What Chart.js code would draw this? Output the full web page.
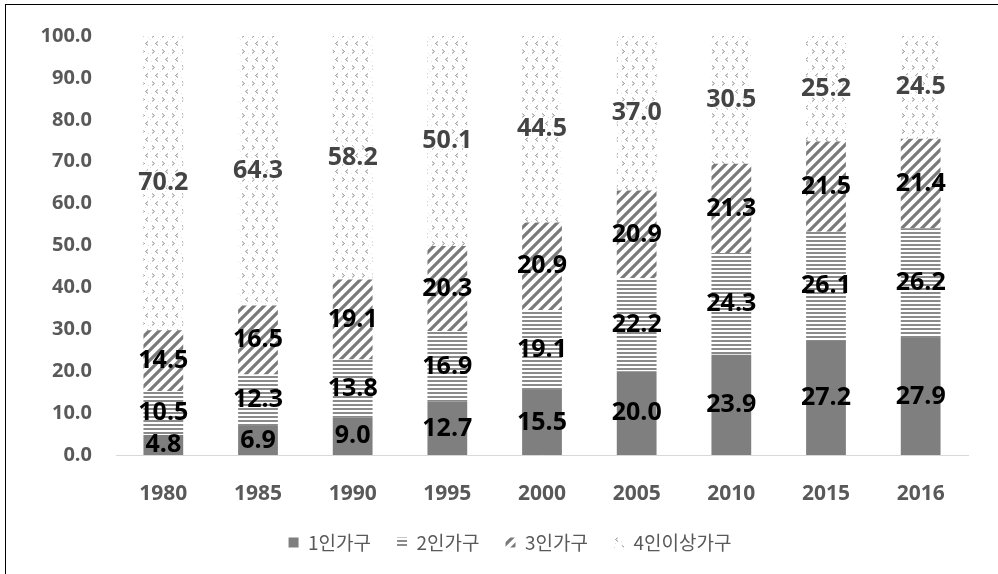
<!DOCTYPE html>
<html>
<head>
<meta charset="utf-8">
<script src="https://cdn.jsdelivr.net/npm/chart.js@4.4.1/dist/chart.umd.min.js"></script>
<style>
  body { margin: 0; background: #fff; }
  #wrap { position: relative; width: 998px; height: 574px; }
  #frame { position: absolute; left: 5px; top: 4px; right: -2px; bottom: -2px; border-left: 1px solid #000; border-top: 1px solid #000; pointer-events: none; }
</style>
</head>
<body>
<div id="wrap">
  <canvas id="myChart" width="998" height="574"></canvas>
  <div id="frame"></div>
</div>
<script>
const years = ["1980", "1985", "1990", "1995", "2000", "2005", "2010", "2015", "2016"];
const seriesNames = ["1인가구", "2인가구", "3인가구", "4인이상가구"];
const onePerson = [4.8, 6.9, 9.0, 12.7, 15.5, 20.0, 23.9, 27.2, 27.9];
const twoPerson = [10.5, 12.3, 13.8, 16.9, 19.1, 22.2, 24.3, 26.1, 26.2];
const threePerson = [14.5, 16.5, 19.1, 20.3, 20.9, 20.9, 21.3, 21.5, 21.4];
const fourPlus = [70.2, 64.3, 58.2, 50.1, 44.5, 37.0, 30.5, 25.2, 24.5];
const yTicks = [0, 10, 20, 30, 40, 50, 60, 70, 80, 90, 100];

const numFont = "'Open Sans', 'Noto Sans CJK KR', sans-serif";

// small canvas patterns for the hatched fills
function makePattern(kind) {
  const c = document.createElement("canvas");
  const g = c.getContext("2d");
  if (kind === "solid") {
    return "#7f7f7f";
  }
  if (kind === "hlines") {
    c.width = 4; c.height = 4;
    g.fillStyle = "#fff"; g.fillRect(0, 0, 4, 4);
    g.fillStyle = "#8a8a8a"; g.fillRect(0, 0, 4, 2);
  } else if (kind === "diag") {
    c.width = 10; c.height = 10;
    g.fillStyle = "#fff"; g.fillRect(0, 0, 10, 10);
    g.strokeStyle = "#7a7a7a"; g.lineWidth = 3.2;
    g.beginPath();
    g.moveTo(-5, 5); g.lineTo(5, -5);
    g.moveTo(0, 10); g.lineTo(10, 0);
    g.moveTo(5, 15); g.lineTo(15, 5);
    g.stroke();
  } else {
    c.width = 10; c.height = 16;
    g.fillStyle = "#fff"; g.fillRect(0, 0, 10, 16);
    g.fillStyle = "#e4e4e4";
    g.fillRect(0, 7, 1, 1); g.fillRect(5, 15, 1, 1); g.fillRect(8, 5, 1, 1); g.fillRect(1, 13, 1, 1);
    g.strokeStyle = "#8f8f8f"; g.lineWidth = 1;
    g.beginPath();
    g.moveTo(2, 1.5); g.lineTo(4.5, 3.5); g.lineTo(2, 5.5);
    g.moveTo(8, 9.5); g.lineTo(5.5, 11.5); g.lineTo(8, 13.5);
    g.stroke();
  }
  return g.createPattern(c, "repeat");
}

const segmentLabels = {
  id: "segmentLabels",
  afterDatasetsDraw(chart) {
    const ctx = chart.ctx;
    ctx.save();
    ctx.font = "bold 25px " + numFont;
    ctx.textAlign = "center";
    ctx.textBaseline = "middle";
    chart.data.datasets.forEach((ds, i) => {
      const meta = chart.getDatasetMeta(i);
      meta.data.forEach((bar, j) => {
        const y = (bar.y + bar.base) / 2;
        if (i === 3) {
          ctx.lineWidth = 3;
          ctx.strokeStyle = "rgba(255,255,255,0.8)";
          ctx.strokeText(ds.data[j].toFixed(1), bar.x, y);
          ctx.fillStyle = "#444";
        } else {
          ctx.fillStyle = "#000";
        }
        ctx.fillText(ds.data[j].toFixed(1), bar.x, y);
      });
    });
    ctx.restore();
  }
};

const fills = [makePattern("solid"), makePattern("hlines"), makePattern("diag"), makePattern("dots")];
const values = [onePerson, twoPerson, threePerson, fourPlus];

const datasets = seriesNames.map((name, i) => ({
  label: name,
  data: values[i],
  backgroundColor: fills[i],
  borderWidth: 0,
  barPercentage: 0.42,
  categoryPercentage: 1.0
}));

let ctx = document.getElementById("myChart").getContext("2d");

const myChart = new Chart(ctx, {
  type: "bar",
  data: { labels: years, datasets },
  options: {
    responsive: false,
    animation: false,
    layout: { padding: { left: 22, right: 0, top: 36, bottom: 12 } },
    plugins: {
      legend: {
        position: "bottom",
        labels: {
          boxWidth: 10,
          boxHeight: 10,
          padding: 26,
          color: "#595959",
          font: { size: 19, family: "'Noto Sans CJK KR', sans-serif" }
        }
      },
      tooltip: { enabled: false }
    },
    scales: {
      x: {
        stacked: true,
        grid: { display: false, drawTicks: false },
        border: { display: true, color: "#d9d9d9", width: 1 },
        ticks: { color: "#595959", padding: 26, font: { size: 21, weight: "bold", family: numFont } },
        afterFit(scale) { scale.height = 52; }
      },
      y: {
        stacked: true,
        min: 0,
        max: 100,
        afterBuildTicks(scale) { scale.ticks = yTicks.map(v => ({ value: v })); },
        grid: { display: false, drawTicks: false },
        border: { display: false },
        ticks: {
          color: "#595959",
          padding: 24,
          font: { size: 20, weight: "bold", family: numFont },
          callback: v => Number(v).toFixed(1)
        },
        afterFit(scale) { scale.width = 94; }
      },
      // empty right-hand axis, only reserves the blank margin on the right
      yRight: {
        position: "right",
        min: 0,
        max: 100,
        grid: { display: false, drawTicks: false },
        border: { display: false },
        ticks: { display: false },
        afterFit(scale) { scale.width = 30; }
      }
    }
  },
  plugins: [segmentLabels]
});
</script>
</body>
</html>
